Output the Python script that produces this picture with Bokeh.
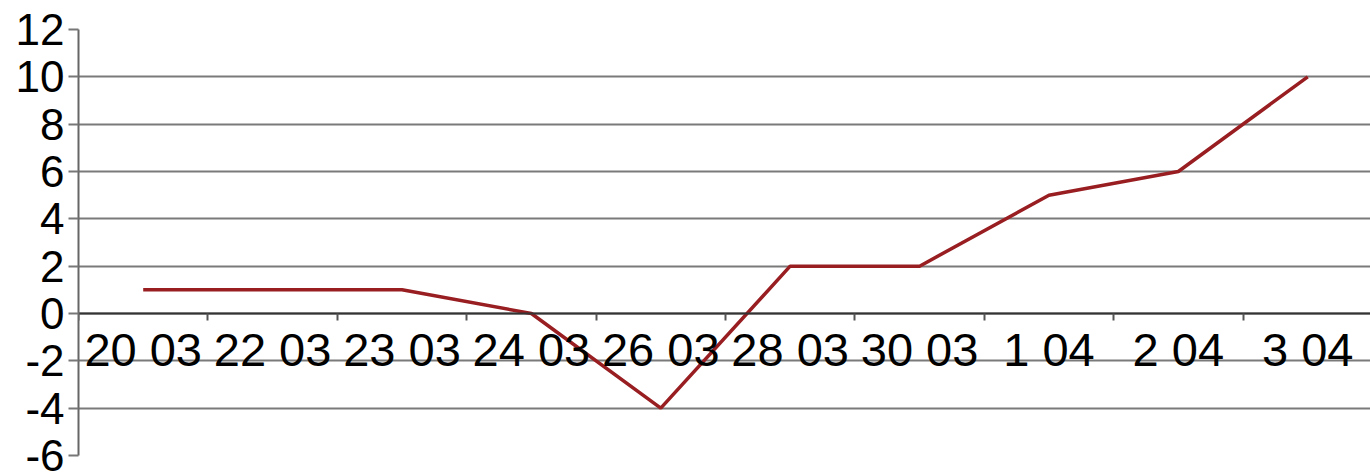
from bokeh.plotting import figure
from bokeh.models import Range1d, FixedTicker
from bokeh.embed import file_html
from bokeh.resources import INLINE

categories = ["20 03", "22 03", "23 03", "24 03", "26 03", "28 03", "30 03", "1 04", "2 04", "3 04"]
values = [1, 1, 1, 0, -4, 2, 2, 5, 6, 10]
y_ticks = [-6, -4, -2, 0, 2, 4, 6, 8, 10, 12]

xs = [i + 0.5 for i in range(len(categories))]

p = figure(width=1370, height=474, output_backend="svg", toolbar_location=None,
           x_range=Range1d(0, 9.985), y_range=Range1d(-6, 12),
           min_border_left=78, min_border_right=0, min_border_top=29, min_border_bottom=19)
p.outline_line_color = None
p.background_fill_color = "white"
p.border_fill_color = "white"

p.line(xs, values, line_color="#981e22", line_width=3.5)

# y axis
p.yaxis.ticker = FixedTicker(ticks=y_ticks)
p.yaxis.major_label_overrides = {t: str(t) for t in y_ticks}
p.yaxis.axis_line_color = "#666666"
p.yaxis.axis_line_width = 2
p.yaxis.major_tick_line_color = "#777777"
p.yaxis.major_tick_line_width = 2
p.yaxis.major_tick_out = 10
p.yaxis.major_tick_in = 0
p.yaxis.minor_tick_line_color = None
p.yaxis.major_label_text_font = "Liberation Sans"
p.yaxis.major_label_text_font_size = "44px"
p.yaxis.major_label_text_color = "black"
p.yaxis.major_label_standoff = 4

p.ygrid.ticker = FixedTicker(ticks=y_ticks)
p.ygrid.grid_line_color = "#7a7a7a"
p.ygrid.grid_line_width = 2
p.xgrid.grid_line_color = None

# x axis at y = 0
p.xaxis.fixed_location = 0
p.xaxis.ticker = FixedTicker(ticks=xs, minor_ticks=list(range(0, 11)))
p.xaxis.major_label_overrides = {x: c for x, c in zip(xs, categories)}
p.xaxis.axis_line_color = "#333333"
p.xaxis.axis_line_width = 2
p.xaxis.major_tick_line_color = None
p.xaxis.minor_tick_line_color = "#555555"
p.xaxis.minor_tick_line_width = 2
p.xaxis.minor_tick_out = 7
p.xaxis.minor_tick_in = 0
p.xaxis.major_label_text_font = "Liberation Sans"
p.xaxis.major_label_text_font_size = "47px"
p.xaxis.major_label_text_color = "black"
p.xaxis.major_label_standoff = 2

open("out.html", "w").write(file_html(p, INLINE))
